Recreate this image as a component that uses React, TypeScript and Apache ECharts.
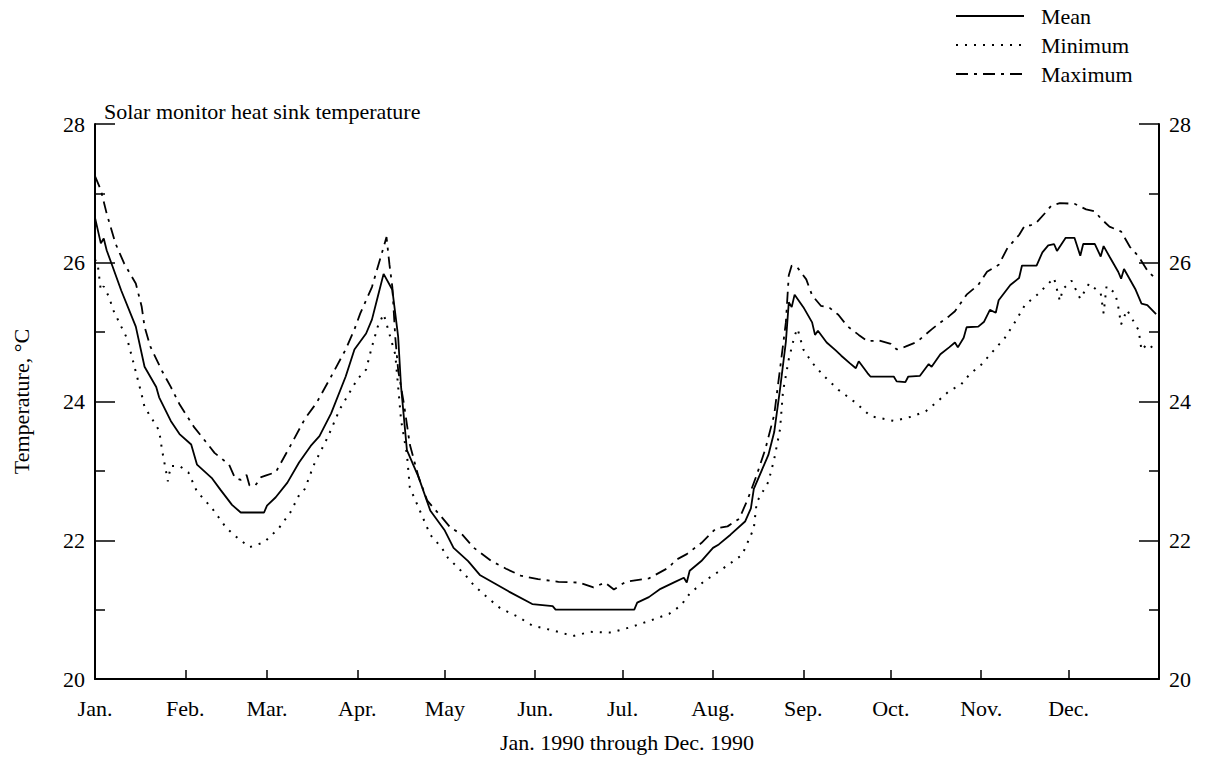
import React, { useEffect, useRef } from "react";
import * as echarts from "echarts";

const monthStartDays = [0, 31, 59, 90, 120, 151, 181, 212, 243, 273, 304, 334];
const monthLabels = ["Jan.", "Feb.", "Mar.", "Apr.", "May", "Jun.", "Jul.", "Aug.", "Sep.", "Oct.", "Nov.", "Dec."];

const meanDays = [0, 2, 3, 4, 6, 9, 14, 17, 21, 22, 26, 29, 33, 35, 40, 43, 47, 50, 58, 59, 62, 66, 70, 74, 77, 81, 86, 89, 93, 95, 97, 99, 102, 104, 105, 107, 111, 115, 120, 123, 128, 132, 137, 142, 150, 157, 158, 185, 186, 190, 194, 199, 202, 203, 204, 208, 212, 214, 218, 223, 225, 226, 231, 233, 235, 237, 238, 239, 240, 243, 246, 247, 248, 251, 254, 256, 259, 261, 262, 265, 266, 274, 275, 278, 279, 283, 286, 287, 290, 293, 295, 296, 298, 299, 303, 305, 307, 309, 310, 314, 317, 318, 323, 325, 327, 329, 330, 333, 336, 338, 339, 343, 345, 346, 348, 351, 352, 353, 357, 359, 361, 364];
const meanValues = [26.65, 26.28, 26.35, 26.18, 25.95, 25.6, 25.08, 24.5, 24.21, 24.06, 23.72, 23.53, 23.38, 23.09, 22.9, 22.73, 22.51, 22.4, 22.4, 22.5, 22.62, 22.83, 23.12, 23.36, 23.5, 23.83, 24.36, 24.75, 24.98, 25.18, 25.51, 25.84, 25.61, 24.93, 24.21, 23.3, 22.91, 22.43, 22.14, 21.89, 21.7, 21.5, 21.38, 21.26, 21.08, 21.05, 21.0, 21.0, 21.1, 21.18, 21.3, 21.4, 21.46, 21.39, 21.56, 21.7, 21.89, 21.94, 22.08, 22.27, 22.46, 22.74, 23.23, 23.56, 24.18, 24.86, 25.43, 25.36, 25.54, 25.36, 25.14, 24.96, 25.02, 24.85, 24.74, 24.66, 24.55, 24.48, 24.58, 24.41, 24.36, 24.36, 24.29, 24.28, 24.36, 24.37, 24.54, 24.5, 24.68, 24.78, 24.85, 24.78, 24.92, 25.07, 25.08, 25.15, 25.32, 25.28, 25.46, 25.68, 25.78, 25.96, 25.96, 26.15, 26.25, 26.27, 26.17, 26.36, 26.36, 26.1, 26.27, 26.27, 26.09, 26.24, 26.09, 25.87, 25.77, 25.91, 25.61, 25.41, 25.39, 25.26];

const minDays = [0, 1, 2, 3, 5, 6, 9, 11, 13, 16, 17, 20, 22, 23, 25, 26, 29, 32, 35, 40, 45, 49, 53, 58, 63, 67, 70, 72, 75, 80, 84, 90, 93, 95, 97, 99, 100, 103, 104, 105, 107, 108, 111, 115, 119, 121, 127, 130, 135, 139, 145, 150, 158, 164, 170, 177, 184, 191, 197, 201, 204, 209, 214, 222, 226, 227, 231, 233, 235, 236, 238, 240, 241, 243, 246, 250, 255, 261, 266, 274, 280, 285, 289, 293, 297, 300, 304, 309, 312, 316, 319, 323, 329, 331, 332, 335, 338, 341, 345, 346, 347, 350, 351, 352, 354, 358, 359, 361, 364];
const minValues = [26.05, 25.95, 25.6, 25.66, 25.49, 25.34, 25.08, 24.91, 24.59, 24.1, 23.92, 23.72, 23.58, 23.3, 22.85, 23.07, 23.07, 22.98, 22.7, 22.47, 22.18, 22.03, 21.9, 21.97, 22.17, 22.4, 22.65, 22.74, 23.08, 23.5, 23.89, 24.32, 24.46, 24.79, 25.08, 25.26, 25.12, 24.68, 24.21, 23.73, 23.24, 22.76, 22.47, 22.08, 21.89, 21.75, 21.5, 21.35, 21.16, 21.02, 20.9, 20.77, 20.69, 20.62, 20.68, 20.67, 20.75, 20.85, 20.94, 21.06, 21.23, 21.41, 21.55, 21.79, 22.17, 22.55, 22.84, 23.17, 23.6, 24.14, 24.61, 24.95, 25.05, 24.75, 24.56, 24.37, 24.17, 23.98, 23.79, 23.72, 23.78, 23.86, 24.0, 24.15, 24.24, 24.39, 24.53, 24.77, 24.91, 25.17, 25.39, 25.53, 25.78, 25.45, 25.62, 25.74, 25.48, 25.7, 25.56, 25.27, 25.66, 25.56, 25.37, 25.11, 25.32, 25.03, 24.74, 24.83, 24.74];

const maxDays = [0, 2, 4, 7, 10, 14, 16, 17, 19, 23, 26, 29, 34, 38, 41, 46, 48, 50, 52, 53, 55, 57, 59, 62, 67, 72, 76, 81, 86, 89, 91, 95, 98, 100, 101, 102, 103, 104, 106, 108, 111, 114, 119, 122, 126, 130, 136, 141, 146, 152, 159, 166, 171, 175, 178, 182, 190, 197, 199, 203, 208, 213, 217, 221, 224, 227, 230, 233, 235, 237, 238, 239, 241, 244, 246, 249, 252, 255, 258, 262, 265, 269, 273, 275, 278, 282, 287, 290, 293, 295, 299, 303, 306, 310, 313, 317, 319, 321, 323, 326, 328, 331, 336, 340, 343, 345, 348, 352, 355, 358, 361, 364];
const maxValues = [27.25, 27.05, 26.71, 26.28, 25.99, 25.7, 25.37, 25.08, 24.79, 24.44, 24.21, 23.96, 23.63, 23.42, 23.26, 23.09, 22.9, 22.87, 22.94, 22.79, 22.79, 22.91, 22.94, 22.98, 23.36, 23.75, 23.98, 24.36, 24.75, 25.04, 25.27, 25.65, 26.08, 26.37, 25.98, 25.65, 24.93, 24.45, 23.96, 23.38, 22.91, 22.57, 22.33, 22.18, 22.08, 21.89, 21.7, 21.59, 21.49, 21.44, 21.4, 21.39, 21.32, 21.39, 21.29, 21.4, 21.45, 21.61, 21.71, 21.8, 21.96, 22.17, 22.2, 22.31, 22.6, 22.94, 23.32, 23.81, 24.47, 25.14, 25.82, 25.96, 25.93, 25.76, 25.53, 25.38, 25.35, 25.25, 25.09, 24.96, 24.87, 24.88, 24.83, 24.75, 24.79, 24.86, 25.04, 25.14, 25.23, 25.3, 25.54, 25.68, 25.87, 25.97, 26.21, 26.4, 26.54, 26.54, 26.58, 26.72, 26.82, 26.86, 26.85, 26.77, 26.74, 26.64, 26.52, 26.45, 26.23, 26.09, 25.89, 25.76];

const FONT = '"Liberation Serif", "Times New Roman", serif';
const BLACK = "#000";

function zip(d: number[], v: number[]) {
  return d.map((x, i) => [x, v[i]]);
}

function yAxisDef(position: "left" | "right") {
  return {
    type: "value",
    position,
    min: 20,
    max: 28,
    interval: 2,
    axisLine: { show: true, onZero: false, lineStyle: { color: BLACK, width: 2 } },
    axisTick: { show: true, inside: true, length: 20, lineStyle: { color: BLACK, width: 1.5 } },
    minorTick: { show: true, splitNumber: 2, length: 10, lineStyle: { color: BLACK, width: 1.5 } },
    axisLabel: { color: BLACK, fontSize: 22, fontFamily: FONT, margin: 10 },
    splitLine: { show: false },
    minorSplitLine: { show: false },
  };
}

export default function App() {
  const ref = useRef<HTMLDivElement>(null);
  useEffect(() => {
    const chart = echarts.init(ref.current!, null, { renderer: "svg" });
    chart.setOption({
      animation: false,
      backgroundColor: "#fff",
      textStyle: { fontFamily: FONT, color: BLACK },
      grid: { left: 95, right: 46, top: 124, bottom: 82, containLabel: false },
      legend: {
        orient: "vertical",
        left: 950,
        top: 0,
        itemWidth: 68,
        itemHeight: 14,
        itemGap: 7,
        data: ["Mean", "Minimum", "Maximum"],
        itemStyle: { color: "rgba(0,0,0,0)", borderColor: "rgba(0,0,0,0)", borderWidth: 0, opacity: 0 },
        textStyle: { color: BLACK, fontSize: 22, fontFamily: FONT, padding: [0, 0, 0, 12] },
        selectedMode: false,
      },
      graphic: [
        {
          type: "text",
          left: 104,
          top: 100,
          style: { text: "Solar monitor heat sink temperature", fontSize: 22, fontFamily: FONT, fill: BLACK },
        },
      ],
      xAxis: {
        type: "value",
        min: 0,
        max: 365,
        position: "bottom",
        axisLine: { show: true, onZero: false, lineStyle: { color: BLACK, width: 2 } },
        axisTick: {
          show: true,
          inside: true,
          length: 9,
          customValues: monthStartDays.slice(1),
          lineStyle: { color: BLACK, width: 1.5 },
        },
        axisLabel: {
          customValues: monthStartDays,
          color: BLACK,
          fontSize: 22,
          fontFamily: FONT,
          margin: 18,
          formatter: (v: number) => {
            const i = monthStartDays.indexOf(Math.round(v));
            return i >= 0 ? monthLabels[i] : "";
          },
        },
        splitLine: { show: false },
        name: "Jan. 1990 through Dec. 1990",
        nameLocation: "middle",
        nameGap: 52,
        nameTextStyle: { color: BLACK, fontSize: 22, fontFamily: FONT },
      },
      yAxis: [
        {
          ...yAxisDef("left"),
          name: "Temperature, °C",
          nameLocation: "middle",
          nameRotate: 90,
          nameGap: 63,
          nameTextStyle: { color: BLACK, fontSize: 22, fontFamily: FONT },
        },
        yAxisDef("right"),
      ],
      series: [
        {
          name: "Mean",
          type: "line",
          yAxisIndex: 0,
          data: zip(meanDays, meanValues),
          symbol: "none",
          itemStyle: { color: BLACK },
          lineStyle: { color: BLACK, width: 1.8, type: "solid" },
        },
        {
          name: "Minimum",
          type: "line",
          yAxisIndex: 0,
          data: zip(minDays, minValues),
          symbol: "none",
          itemStyle: { color: BLACK },
          lineStyle: { color: BLACK, width: 2, type: [2, 7] },
        },
        {
          name: "Maximum",
          type: "line",
          yAxisIndex: 0,
          data: zip(maxDays, maxValues),
          symbol: "none",
          itemStyle: { color: BLACK },
          lineStyle: { color: BLACK, width: 1.8, type: [12, 6, 3, 6] },
        },
      ],
    });
    return () => chart.dispose();
  }, []);
  return <div ref={ref} style={{ position: "fixed", left: 0, top: 0, width: 1205, height: 761 }} />;
}
